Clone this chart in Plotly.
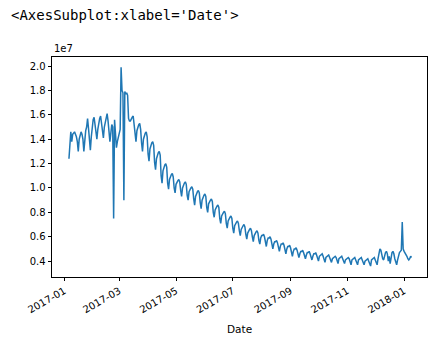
import pandas as pd
import plotly.graph_objects as go

# Daily series, values in units of 1e7, starting 2017-01-06
start_date = "2017-01-06"
values = [
    # Jan 6 - Mar 10
    1.24, 1.33, 1.46, 1.38, 1.44, 1.45, 1.46,
    1.44, 1.42, 1.38, 1.30, 1.40, 1.45, 1.46,
    1.44, 1.40, 1.30, 1.42, 1.47, 1.50, 1.57,
    1.49, 1.40, 1.31, 1.42, 1.52, 1.56, 1.58,
    1.52, 1.45, 1.40, 1.48, 1.55, 1.57, 1.59,
    1.54, 1.46, 1.41, 1.50, 1.55, 1.58, 1.61,
    1.55, 1.46, 1.38, 1.45, 1.52, 1.50, 0.75,
    1.56, 1.45, 1.33, 1.38, 1.42, 1.45, 1.48,
    1.99, 1.80, 1.78, 0.90, 1.79, 1.77, 1.78,
    1.76,
    # weeks Sat..Fri from Mar 11
    1.57, 1.55, 1.55, 1.57, 1.58, 1.59, 1.52,
    1.44, 1.38, 1.47, 1.50, 1.52, 1.53, 1.48,
    1.37, 1.30, 1.40, 1.44, 1.45, 1.46, 1.42,
    1.28, 1.22, 1.32, 1.36, 1.37, 1.38, 1.35,
    1.21, 1.15, 1.24, 1.28, 1.29, 1.30, 1.27,
    1.10, 1.04, 1.14, 1.18, 1.19, 1.20, 1.17,
    1.04, 0.99, 1.07, 1.10, 1.11, 1.12, 1.09,
    1.00, 0.96, 1.03, 1.05, 1.06, 1.07, 1.05,
    0.98, 0.93, 1.00, 1.03, 1.04, 1.05, 1.03,
    0.94, 0.90, 0.97, 0.99, 1.00, 1.01, 0.99,
    0.91, 0.86, 0.93, 0.96, 0.97, 0.98, 0.96,
    0.88, 0.83, 0.90, 0.93, 0.94, 0.95, 0.93,
    0.84, 0.80, 0.87, 0.89, 0.90, 0.91, 0.89,
    0.80, 0.76, 0.82, 0.84, 0.85, 0.86, 0.84,
    0.75, 0.71, 0.77, 0.79, 0.80, 0.81, 0.79,
    0.71, 0.67, 0.73, 0.75, 0.76, 0.77, 0.75,
    0.67, 0.63, 0.69, 0.71, 0.72, 0.73, 0.71,
    0.65, 0.61, 0.66, 0.68, 0.69, 0.70, 0.68,
    0.62, 0.58, 0.63, 0.65, 0.66, 0.67, 0.65,
    0.60, 0.56, 0.61, 0.63, 0.64, 0.65, 0.63,
    0.57, 0.54, 0.59, 0.61, 0.61, 0.62, 0.60,
    0.55, 0.52, 0.57, 0.59, 0.59, 0.60, 0.58,
    0.53, 0.50, 0.54, 0.56, 0.56, 0.57, 0.55,
    0.51, 0.48, 0.52, 0.54, 0.54, 0.55, 0.53,
    0.49, 0.46, 0.50, 0.52, 0.52, 0.53, 0.51,
    0.47, 0.44, 0.48, 0.50, 0.50, 0.51, 0.49,
    0.45, 0.43, 0.46, 0.48, 0.48, 0.49, 0.47,
    0.44, 0.42, 0.45, 0.47, 0.47, 0.48, 0.46,
    0.43, 0.41, 0.44, 0.46, 0.46, 0.47, 0.45,
    0.42, 0.40, 0.44, 0.45, 0.45, 0.46, 0.44,
    0.41, 0.39, 0.43, 0.44, 0.44, 0.45, 0.43,
    0.41, 0.39, 0.42, 0.43, 0.43, 0.44, 0.43,
    0.40, 0.38, 0.42, 0.43, 0.43, 0.44, 0.42,
    0.40, 0.38, 0.41, 0.42, 0.42, 0.43, 0.42,
    0.39, 0.37, 0.41, 0.42, 0.42, 0.43, 0.41,
    0.39, 0.37, 0.41, 0.42, 0.42, 0.43, 0.41,
    0.39, 0.37, 0.40, 0.41, 0.42, 0.42, 0.40,
    0.38, 0.36, 0.41, 0.42, 0.42, 0.43, 0.41,
    0.39, 0.37, 0.42, 0.46, 0.50, 0.49, 0.44,
    0.42, 0.41, 0.45, 0.47, 0.48, 0.46, 0.40,
    0.44, 0.38, 0.45, 0.47, 0.48, 0.46, 0.42,
    0.40, 0.37, 0.41, 0.45, 0.47, 0.48, 0.49,
    0.72, 0.50, 0.48, 0.47, 0.46, 0.44, 0.42,
    # Jan 6 - Jan 9 2018
    0.41, 0.42, 0.44, 0.43,
]
dates = pd.date_range(start_date, periods=len(values), freq="D")

y_ticks = [0.4, 0.6, 0.8, 1.0, 1.2, 1.4, 1.6, 1.8, 2.0]
x_ticks = ["2017-01-01", "2017-03-01", "2017-05-01", "2017-07-01",
           "2017-09-01", "2017-11-01", "2018-01-01"]
x_tick_labels = ["2017-01", "2017-03", "2017-05", "2017-07",
                 "2017-09", "2017-11", "2018-01"]

fig = go.Figure()
fig.add_trace(go.Scatter(x=dates, y=values, mode="lines",
                         line=dict(color="#1f77b4", width=1.5),
                         showlegend=False))

tick_font = dict(family="DejaVu Sans", size=10, color="#000000")
fig.update_layout(
    width=448, height=351,
    margin=dict(l=52, r=21, t=57, b=74),
    paper_bgcolor="white", plot_bgcolor="white",
    xaxis=dict(
        range=["2016-12-18 19:00", "2018-01-25 14:00"],
        tickvals=x_ticks, ticktext=x_tick_labels, tickangle=-30,
        showgrid=False, zeroline=False,
        showline=True, mirror=True, linecolor="black", linewidth=0.8,
        ticks="outside", ticklen=3.5, tickwidth=0.8, tickcolor="black",
        tickfont=tick_font,
    ),
    yaxis=dict(
        range=[0.27, 2.074],
        tickvals=y_ticks, tickformat=".1f",
        showgrid=False, zeroline=False,
        showline=True, mirror=True, linecolor="black", linewidth=0.8,
        ticks="outside", ticklen=3.5, tickwidth=0.8, tickcolor="black",
        tickfont=tick_font,
    ),
    annotations=[
        dict(text="&lt;AxesSubplot:xlabel='Date'&gt;", xref="paper", yref="paper",
             x=0, y=1, xanchor="left", yanchor="middle", xshift=-43, yshift=42,
             showarrow=False,
             font=dict(family="DejaVu Sans Mono", size=14, color="#000000")),
        dict(text="1e7", xref="paper", yref="paper", x=0, y=1,
             xanchor="left", yanchor="bottom", yshift=1, showarrow=False,
             font=dict(family="DejaVu Sans", size=10, color="#000000")),
        dict(text="Date", xref="paper", yref="paper", x=0.5, y=0,
             xanchor="center", yanchor="middle", yshift=-52, showarrow=False,
             font=dict(family="DejaVu Sans", size=10.5, color="#000000")),
    ],
)

fig.write_html("out.html")
